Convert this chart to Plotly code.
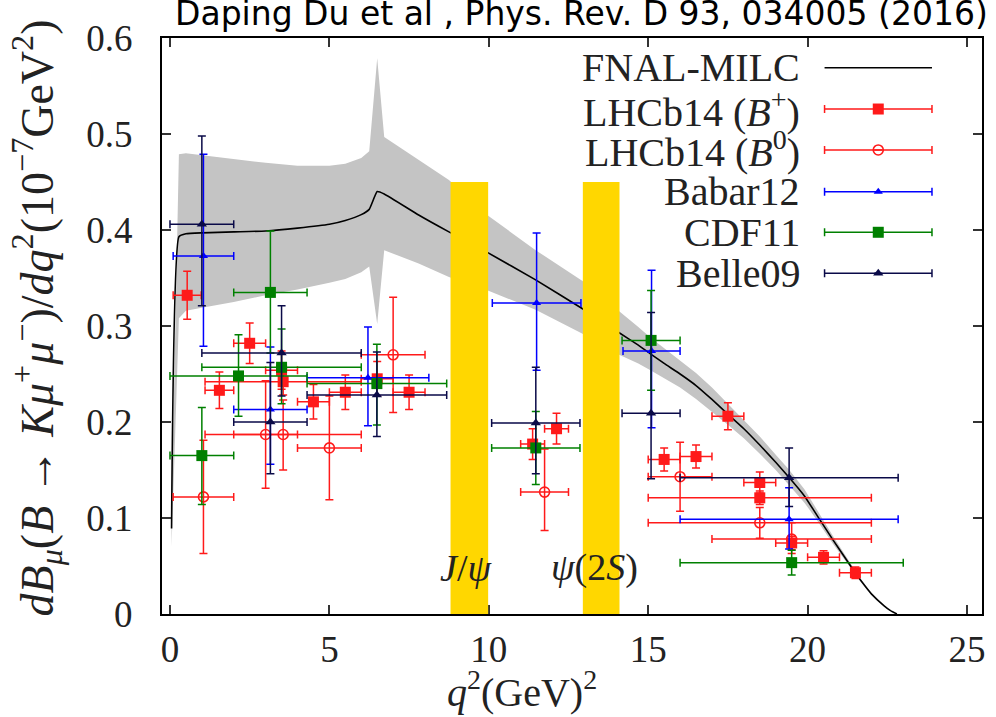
import plotly.graph_objects as go

# ---------------- theory curve (FNAL-MILC) ----------------
q2_th = [0.05, 0.28, 0.5, 1.0, 2.0, 3.0, 4.0, 5.0, 5.5, 6.0, 6.25, 6.5, 6.72, 7.8, 8.75,
         9.97, 11.47, 12.94, 14.09, 14.69, 15.07, 15.5, 16.0, 16.5, 17.0, 17.47, 18.0,
         18.5, 19.0, 19.4, 19.9, 20.31, 20.8, 21.35, 21.7, 22.0, 22.4, 22.6, 22.8]
dB_th = [0.089, 0.393, 0.396, 0.397, 0.398, 0.399, 0.402, 0.406, 0.410, 0.416, 0.4215,
         0.440, 0.4375, 0.4156, 0.398, 0.3764, 0.348, 0.318, 0.293, 0.280, 0.271, 0.261,
         0.250, 0.238, 0.2235, 0.209, 0.193, 0.176, 0.158, 0.143, 0.123, 0.102, 0.077,
         0.050, 0.0335, 0.021, 0.0085, 0.0035, 0.0]
dB_lo = [0.070, 0.308, 0.316, 0.319, 0.325, 0.332, 0.338, 0.345, 0.349, 0.356, 0.362,
         0.302, 0.379, 0.365, 0.351, 0.337, 0.317, 0.292, 0.270, 0.261, 0.254, 0.246,
         0.236, 0.224, 0.211, 0.198, 0.183, 0.167, 0.150, 0.135, 0.116, 0.097, 0.073,
         0.0475, 0.032, 0.020, 0.008, 0.0033, 0.0]
dB_hi = [0.108, 0.479, 0.480, 0.478, 0.474, 0.470, 0.467, 0.467, 0.469, 0.475, 0.482,
         0.579, 0.497, 0.473, 0.452, 0.415, 0.379, 0.347, 0.316, 0.299, 0.288, 0.277,
         0.264, 0.251, 0.236, 0.220, 0.203, 0.185, 0.166, 0.151, 0.130, 0.107, 0.081,
         0.0525, 0.035, 0.022, 0.009, 0.0037, 0.0]

# ---------------- charmonium veto regions ----------------
veto_lo = [8.8, 12.95]
veto_hi = [9.98, 14.1]
veto_top = 0.45
veto_labels = ["<i>J</i>/<i>ψ</i>", "<i>ψ</i>(2<i>S</i>)"]
veto_label_x = [9.3, 13.3]
veto_label_y = 0.048

# ---------------- LHCb14 (B+) ----------------
lp_qlo = [0.1, 1.1, 2.0, 3.0, 4.0, 5.0, 6.0, 7.0, 11.0, 11.75, 15.0, 16.0, 17.0, 18.0, 19.0, 20.0, 21.0, 1.1, 15.0]
lp_qhi = [0.98, 2.0, 3.0, 4.0, 5.0, 6.0, 7.0, 8.0, 11.75, 12.5, 16.0, 17.0, 18.0, 19.0, 20.0, 21.0, 22.0, 6.0, 22.0]
lp_val = [0.332, 0.233, 0.282, 0.254, 0.221, 0.231, 0.245, 0.231, 0.177, 0.193, 0.161, 0.164, 0.206, 0.137, 0.074, 0.059, 0.043, 0.242, 0.121]
lp_err = [0.025, 0.019, 0.021, 0.020, 0.018, 0.018, 0.018, 0.018, 0.016, 0.016, 0.012, 0.012, 0.014, 0.011, 0.007, 0.007, 0.006, 0.014, 0.007]

# ---------------- LHCb14 (B0) ----------------
l0_qlo = [0.1, 2.0, 4.0, 6.0, 11.0, 15.0, 17.0, 1.1, 15.0]
l0_qhi = [2.0, 4.0, 6.0, 8.0, 12.5, 17.0, 22.0, 6.0, 22.0]
l0_val = [0.122, 0.187, 0.173, 0.270, 0.127, 0.143, 0.078, 0.187, 0.095]
l0_eup = [0.059, 0.056, 0.054, 0.060, 0.045, 0.036, 0.017, 0.036, 0.016]
l0_edn = [0.059, 0.056, 0.054, 0.060, 0.040, 0.036, 0.015, 0.037, 0.016]

# ---------------- Babar12 ----------------
bb_qlo = [0.1, 2.0, 4.3, 10.11, 14.21, 16.0]
bb_qhi = [2.0, 4.3, 8.12, 12.89, 16.0, 22.84]
bb_val = [0.373, 0.213, 0.246, 0.324, 0.274, 0.0986]
bb_eup = [0.106, 0.065, 0.053, 0.073, 0.084, 0.033]
bb_edn = [0.094, 0.057, 0.050, 0.070, 0.080, 0.031]

# ---------------- CDF11 ----------------
cd_qlo = [0.0, 0.0, 2.0, 1.0, 4.3, 10.09, 14.18, 16.0]
cd_qhi = [2.0, 4.3, 4.3, 6.0, 8.68, 12.86, 16.0, 23.0]
cd_val = [0.165, 0.248, 0.335, 0.257, 0.240, 0.173, 0.285, 0.0535]
cd_eup = [0.050, 0.043, 0.064, 0.040, 0.041, 0.038, 0.052, 0.013]
cd_edn = [0.051, 0.042, 0.063, 0.038, 0.043, 0.038, 0.052, 0.013]

# ---------------- Belle09 ----------------
be_qlo = [0.0, 2.0, 1.0, 4.3, 10.09, 14.18, 16.0]
be_qhi = [2.0, 4.3, 6.0, 8.68, 12.86, 16.0, 22.84]
be_val = [0.406, 0.200, 0.272, 0.228, 0.199, 0.209, 0.142]
be_eup = [0.092, 0.062, 0.049, 0.045, 0.058, 0.105, 0.031]
be_edn = [0.085, 0.054, 0.045, 0.043, 0.053, 0.068, 0.030]

# ---------------- labels ----------------
title_text = "Daping Du et al , Phys. Rev. D 93, 034005 (2016)"
x_title = "<i>q</i><sup>2</sup>(GeV)<sup>2</sup>"
y_title = ("<i>dB</i><sub><i>μ</i></sub>(<i>B</i> → <i>Kμ</i><sup>+</sup><i>μ</i><sup>−</sup>)"
           "/<i>dq</i><sup>2</sup>(10<sup>−7</sup>GeV<sup>2</sup>)")
x_ticks = [0, 5, 10, 15, 20, 25]
y_ticks = [0, 0.1, 0.2, 0.3, 0.4, 0.5, 0.6]

RED = "#ff1a1a"
BLUE = "#0000ff"
GREEN = "#008000"
NAVY = "#0a0a48"
SERIF = "Liberation Serif, Times New Roman, serif"
TXT = "#222222"

fig = go.Figure()

# band
fig.add_trace(go.Scatter(
    x=q2_th + q2_th[::-1], y=dB_hi + dB_lo[::-1], mode="lines", fill="toself",
    fillcolor="#c4c4c4", line=dict(width=0), hoverinfo="skip", showlegend=False))
# central curve
fig.add_trace(go.Scatter(x=q2_th, y=dB_th, mode="lines",
                         line=dict(color="black", width=1.6, shape="spline", smoothing=0.4),
                         showlegend=False))


def exp_trace(qlo, qhi, val, eup, edn, color, symbol, size, xaxis="x", yaxis="y"):
    xc = [(a + b) / 2 for a, b in zip(qlo, qhi)]
    ex = [(b - a) / 2 for a, b in zip(qlo, qhi)]
    open_sym = symbol.endswith("open")
    return go.Scatter(
        x=xc, y=val, mode="markers", xaxis=xaxis, yaxis=yaxis,
        marker=dict(symbol=symbol, size=size, color=color,
                    line=dict(width=1.6 if open_sym else 0, color=color)),
        error_x=dict(type="data", array=ex, color=color, thickness=1.5, width=4),
        error_y=dict(type="data", array=eup, arrayminus=edn, color=color,
                     thickness=1.5, width=4),
        showlegend=False, hoverinfo="x+y")


series = [
    (lp_qlo, lp_qhi, lp_val, lp_err, lp_err, RED, "square", 11),
    (l0_qlo, l0_qhi, l0_val, l0_eup, l0_edn, RED, "circle-open", 10),
    (bb_qlo, bb_qhi, bb_val, bb_eup, bb_edn, BLUE, "triangle-up", 8),
    (cd_qlo, cd_qhi, cd_val, cd_eup, cd_edn, GREEN, "square", 11),
    (be_qlo, be_qhi, be_val, be_eup, be_edn, NAVY, "triangle-up", 9),
]
for s in series:
    fig.add_trace(exp_trace(*s))

# veto bands (data coordinates)
for lo, hi in zip(veto_lo, veto_hi):
    fig.add_shape(type="rect", xref="x", yref="y", x0=lo, x1=hi, y0=0, y1=veto_top,
                  fillcolor="#ffd700", line=dict(width=0), layer="above")
for lab, lx in zip(veto_labels, veto_label_x):
    fig.add_annotation(x=lx, y=veto_label_y, xref="x", yref="y", text=lab,
                       showarrow=False, xanchor="center", yanchor="middle",
                       font=dict(family=SERIF, size=38, color=TXT))

# ---------------- custom legend (gnuplot style) ----------------
leg_names = ["FNAL-MILC", "LHCb14 (<i>B</i><sup>+</sup>)", "LHCb14 (<i>B</i><sup>0</sup>)",
             "Babar12", "CDF11", "Belle09"]
leg_y = [0.9484, 0.8767, 0.8056, 0.7332, 0.6627, 0.5915]
leg_text_x = 0.7810
leg_x0, leg_x1 = 0.808, 0.939
for name, ly in zip(leg_names, leg_y):
    fig.add_annotation(x=leg_text_x, y=ly, xref="paper", yref="paper", text=name,
                       showarrow=False, xanchor="right", yanchor="middle",
                       font=dict(family=SERIF, size=40, color=TXT))
fig.add_shape(type="line", xref="paper", yref="paper", x0=leg_x0, x1=leg_x1,
              y0=leg_y[0], y1=leg_y[0], line=dict(color="black", width=1.6))
for (s, ly) in zip(series, leg_y[1:]):
    _, _, _, _, _, color, symbol, size = s
    fig.add_trace(exp_trace([leg_x0], [leg_x1], [ly], [0], [0], color, symbol, size,
                            xaxis="x2", yaxis="y2"))

axis_common = dict(showline=True, linecolor="black", linewidth=2, mirror="ticks",
                   ticks="inside", ticklen=9, tickwidth=1.5, tickcolor="#333",
                   showgrid=False, zeroline=False,
                   tickfont=dict(family=SERIF, size=37, color=TXT))

fig.update_layout(
    width=996, height=717,
    margin=dict(l=162, r=11, t=38, b=103),
    paper_bgcolor="white", plot_bgcolor="white",
    xaxis=dict(range=[-0.25, 25.47], tickvals=x_ticks, ticklabelstandoff=2, **axis_common),
    yaxis=dict(range=[0, 0.6], tickvals=y_ticks, ticklabelstandoff=20, **axis_common),
    xaxis2=dict(overlaying="x", range=[0, 1], visible=False),
    yaxis2=dict(overlaying="y", range=[0, 1], visible=False),
    showlegend=False,
)

fig.add_annotation(x=0.4386, y=(614 - 689) / 576, xref="paper", yref="paper", text=x_title,
                   showarrow=False, xanchor="center", yanchor="middle",
                   font=dict(family=SERIF, size=40, color=TXT))
fig.add_annotation(x=(36 - 162) / 823, y=(614 - 318) / 576, xref="paper", yref="paper",
                   text=y_title, showarrow=False, textangle=-90,
                   xanchor="center", yanchor="middle",
                   font=dict(family=SERIF, size=46, color=TXT))
fig.add_annotation(x=(173 - 162) / 823, y=(614 - 14) / 576, xref="paper", yref="paper",
                   text=title_text, showarrow=False, xanchor="left", yanchor="middle",
                   font=dict(family="DejaVu Sans, sans-serif", size=33, color="black"))

fig.write_html("out.html")
